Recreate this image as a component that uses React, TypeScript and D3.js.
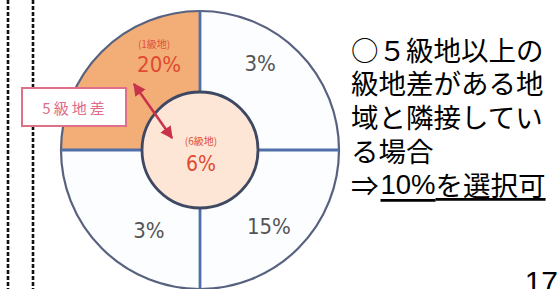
import React from "react";
import * as d3 from "d3";

// Quadrants in clockwise order starting at 12 o'clock
const quadrantNames = ["右上", "右下", "左下", "左上"];
const quadrantRates = [3, 15, 3, 20];
const quadrantGrades = ["", "", "", "(1級地)"];
const centerRate = 6;
const centerGrade = "(6級地)";
const gapLabel = "5級地差";
const noteLines = ["○５級地以上の", "級地差がある地", "域と隣接してい", "る場合"];
const notePrefix = "⇒";
const noteRate = "10%";
const noteRest = "を選択可";
const pageNumber = "17";

const W = 559;
const H = 289;
const cx = 200;
const cy = 150;
const R = 139;
const r0 = 58;

// label polar placement (deg clockwise from north, radius)
const labelPos = [
  { a: 35, d: 105 },
  { a: 138, d: 103 },
  { a: 212.5, d: 95 },
  { a: 334.5, d: 95 },
];

const polar = (a: number, d: number) => {
  const t = (a * Math.PI) / 180;
  return [cx + d * Math.sin(t), cy - d * Math.cos(t)];
};

export default function App() {
  const pie = d3
    .pie<number>()
    .sort(null)
    .value(() => 1);
  const arcs = pie(quadrantRates);
  const arcGen = d3.arc<d3.PieArcDatum<number>>().innerRadius(r0).outerRadius(R);
  const jp = "'Noto Sans CJK JP', 'Noto Sans', sans-serif";
  const num = "'Liberation Sans', Arial, sans-serif";

  return (
    <svg
      width={W}
      height={H}
      style={{ position: "absolute", left: 0, top: 0, background: "#fff" }}
      fontFamily={jp}
    >
      <defs>
        <radialGradient id="og" cx={cx} cy={cy} r={R} gradientUnits="userSpaceOnUse">
          <stop offset="0.45" stopColor="#fddcc2" />
          <stop offset="0.88" stopColor="#f9c8a0" />
          <stop offset="1" stopColor="#f3ae78" />
        </radialGradient>
        <marker id="ah" viewBox="0 0 10 10" refX="9" refY="5" markerWidth="5" markerHeight="5" orient="auto-start-reverse">
          <path d="M0,0 L10,5 L0,10 z" fill="#c8324a" />
        </marker>
      </defs>

      {/* dashed guide lines */}
      {[8, 33].map((x) => (
        <line key={x} x1={x} x2={x} y1={0} y2={H} stroke="#111" strokeWidth={2.6} strokeDasharray="4 2" />
      ))}

      {/* quadrants */}
      <g transform={`translate(${cx},${cy})`}>
        {arcs.map((a, i) => (
          <path
            key={quadrantNames[i]}
            d={arcGen(a) || ""}
            fill={i === 3 ? "url(#og)" : "#fcfdff"}
            stroke="none"
          />
        ))}
        <circle r={R} fill="none" stroke="#58627f" strokeWidth={2.2} />
        {/* dividers */}
        <line x1={-R} x2={-r0} y1={0} y2={0} stroke="#4f6fa8" strokeWidth={2.8} />
        <line x1={r0} x2={R} y1={0} y2={0} stroke="#4f6fa8" strokeWidth={2.8} />
        <line x1={0} x2={0} y1={-R} y2={-r0} stroke="#4f6fa8" strokeWidth={2.8} />
        <line x1={0} x2={0} y1={r0} y2={R} stroke="#4f6fa8" strokeWidth={2.8} />
        <circle r={r0} fill="#fde6d6" stroke="#3e4862" strokeWidth={2.8} />
      </g>

      {/* quadrant labels */}
      {arcs.map((a, i) => {
        const [x, y] = polar(labelPos[i].a, labelPos[i].d);
        const red = quadrantGrades[i] !== "";
        return (
          <g key={"l" + i}>
            {red && (
              <text x={x - 5} y={y - 21} fontSize={10} fill="#e0503a" textAnchor="middle" dominantBaseline="central">
                {quadrantGrades[i]}
              </text>
            )}
            <text
              x={x}
              y={y}
              fontSize={22}
              fill={red ? "#e04a30" : "#555"}
              textAnchor="middle"
              dominantBaseline="central"
              fontFamily="'DejaVu Sans Condensed', 'DejaVu Sans', sans-serif"
            >
              {quadrantRates[i]}%
            </text>
          </g>
        );
      })}

      {/* center labels */}
      <text x={cx + 1} y={cy - 10} fontSize={10} fill="#e0503a" textAnchor="middle" dominantBaseline="central">
        {centerGrade}
      </text>
      <text x={cx + 1} y={cy + 14} fontSize={21} fill="#e04a30" textAnchor="middle" dominantBaseline="central" fontFamily="'DejaVu Sans Condensed', 'DejaVu Sans', sans-serif">
        {centerRate}%
      </text>

      {/* grade difference box and arrow */}
      <line x1={134} y1={84} x2={172} y2={138} stroke="#c8324a" strokeWidth={2.5} markerStart="url(#ah)" markerEnd="url(#ah)" />
      <rect x={22} y={88} width={104} height={38} fill="#fff" stroke="#e07088" strokeWidth={2} />
      <text x={75} y={107} fontSize={15} fill="#e06a88" textAnchor="middle" dominantBaseline="central" letterSpacing={3}>
        {gapLabel}
      </text>

      {/* note text */}
      {noteLines.map((t, i) => (
        <text key={t} x={351} y={48.5 + i * 33.8} fontSize={27.5} fill="#000" dominantBaseline="central">
          {t}
        </text>
      ))}
      <text x={351} y={184} fontSize={27.5} fill="#000" dominantBaseline="central">
        {notePrefix}
        <tspan textDecoration="underline" fontFamily={num} dx={2}>{noteRate}</tspan>
        <tspan textDecoration="underline">{noteRest}</tspan>
      </text>

      <text x={558} y={292} fontSize={30} fill="#000" textAnchor="end" fontFamily={num}>
        {pageNumber}
      </text>
    </svg>
  );
}
